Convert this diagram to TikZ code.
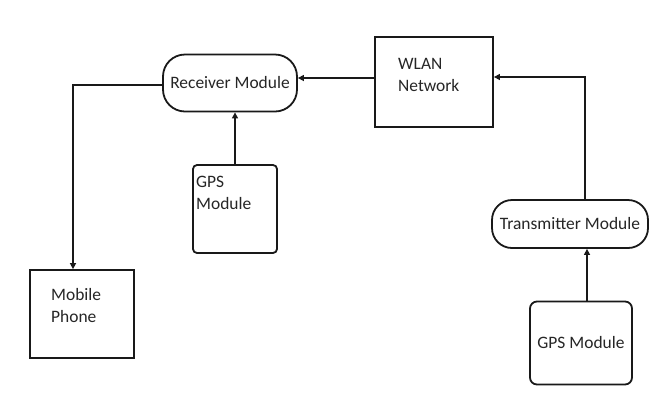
\documentclass[tikz,border=0pt]{standalone}
\usepackage{fontspec}
\setmainfont{Carlito}
\usetikzlibrary{arrows.meta}
\begin{document}
\begin{tikzpicture}[x=1bp,y=-1bp,
  box/.style={draw=black!90, line width=1.8bp, inner sep=0pt},
  stadium/.style={box, rounded corners=22bp},
  sq/.style={box, rounded corners=4bp},
  txt/.style={font=\fontsize{17.5}{22}\selectfont, text=black!85},
  lbl/.style={txt, align=left, inner sep=0pt},
  arr/.style={draw=black!90, line width=1.4bp, -{Triangle[length=6bp,width=6bp]}}]
\useasboundingbox[fill=white] (0,0) rectangle (652,402);
% nodes
\node[stadium, minimum width=134bp, minimum height=57bp, txt] (recv) at (230,83) {Receiver Module};
\node[box, minimum width=118bp, minimum height=90bp] (wlan) at (434,82) {};
\node[lbl, anchor=north west] (wlantxt) at (398,58) {WLAN\\Network};
\node[sq, minimum width=84bp, minimum height=88bp] (gps1) at (235,209) {};
\node[lbl, anchor=north west] (gps1txt) at (196,176) {GPS\\Module};
\node[box, minimum width=104bp, minimum height=88bp] (mob) at (82,314) {};
\node[lbl, anchor=north west] (mobtxt) at (51,288) {Mobile\\Phone};
\node[stadium, rounded corners=20bp, minimum width=156bp, minimum height=48bp, txt] (trans) at (570,224) {Transmitter Module};
\node[sq, rounded corners=7bp, minimum width=102bp, minimum height=83bp, txt] (gps2) at (581,343) {GPS Module};
% connectors
\coordinate (c1) at (73,85);
\coordinate (c2) at (585,77);
\draw[arr] (wlan.west |- 0,78) -- (recv.east |- 0,78);
\draw[arr] (recv.west |- c1) -- (c1) -- (c1 |- mob.north);
\draw[arr] (gps1.north) -- (recv.south -| gps1.north);
\draw[arr] (trans.north -| c2) -- (c2) -- (wlan.east |- c2);
\draw[arr] (gps2.north -| 587,0) -- (trans.south -| 587,0);
\end{tikzpicture}
\end{document}
